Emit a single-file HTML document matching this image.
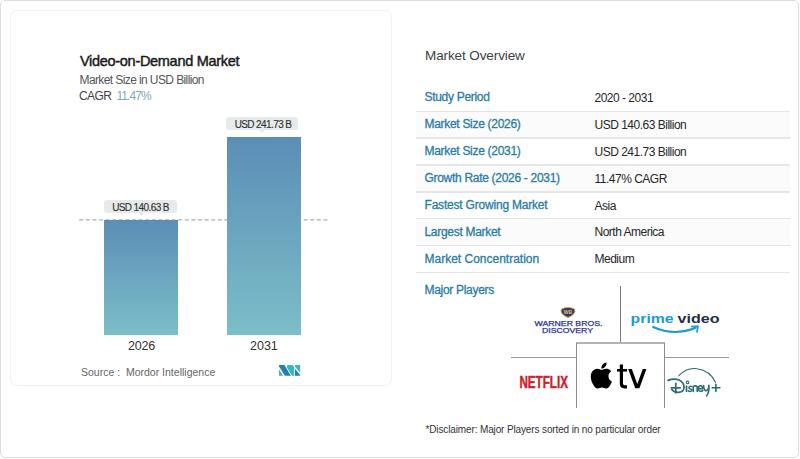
<!DOCTYPE html>
<html><head><meta charset="utf-8">
<style>
html,body{margin:0;padding:0;background:#fff;}
body{width:800px;height:459px;position:relative;overflow:hidden;font-family:"Liberation Sans",sans-serif;}
.abs{position:absolute;white-space:nowrap;line-height:1;}
#outer{position:absolute;left:0;top:0;width:797px;height:456px;border:1px solid #dcdcdc;border-radius:5px;}
#card{position:absolute;left:10px;top:10px;width:380px;height:374px;border:1px solid #f2f2f2;border-radius:7px;}
.title{left:80px;top:54px;font-size:14.5px;font-weight:normal;color:#1a1a1a;letter-spacing:-0.3px;-webkit-text-stroke:0.45px #1a1a1a;}
.sub{left:79.5px;top:74px;font-size:12px;color:#555;letter-spacing:-0.6px;}
.cagr{left:79px;top:90px;font-size:12px;color:#444;letter-spacing:-0.6px;}
.cagr span{color:#7ea8b8;margin-left:2.5px;letter-spacing:-0.95px;}
.bar{position:absolute;background:linear-gradient(to bottom,#5b8eb6,#7cbec8);}

.lbl{position:absolute;background:#e6eaeb;border-radius:3px;height:13px;font-size:10px;color:#333;text-align:center;line-height:16px;letter-spacing:-0.6px;-webkit-text-stroke:0.15px #333;}
.lbl:after{content:"";position:absolute;left:50%;bottom:-3px;margin-left:-3px;border-left:3px solid transparent;border-right:3px solid transparent;border-top:3px solid #e6eaeb;}
.year{font-size:12.5px;color:#333;}
.src{left:81px;top:367px;font-size:10.5px;color:#666;}
.ov{left:425px;top:49px;font-size:13.5px;color:#3b3f44;letter-spacing:-0.1px;}
.rk{left:424.5px;font-size:12px;color:#2b7ca5;letter-spacing:-0.3px;-webkit-text-stroke:0.3px #2b7ca5;}
.rv{left:594.5px;font-size:12px;color:#262626;letter-spacing:-0.5px;}
.sep{position:absolute;left:416px;width:374px;height:1.5px;background:#e6e6e6;}
.rowbg{position:absolute;left:416px;width:374px;background:#fbfbfb;}
.gl{position:absolute;background:#8c8c8c;}
.disc{left:425.5px;top:425px;font-size:10px;color:#333;letter-spacing:-0.13px;}
</style></head><body>
<div id="outer"></div>
<div id="card"></div>

<div class="abs title">Video-on-Demand Market</div>
<div class="abs sub">Market Size in USD Billion</div>
<div class="abs cagr">CAGR <span>11.47%</span></div>

<svg style="position:absolute;left:0;top:0;" width="400" height="240"><line x1="79.2" y1="219.8" x2="327.6" y2="219.8" stroke="#a9b0b3" stroke-width="1.3" stroke-dasharray="4 2.6"/></svg>
<div class="bar" style="left:104px;top:220px;width:74px;height:115px;"></div>
<div class="bar" style="left:227px;top:137px;width:74px;height:198px;"></div>
<div class="lbl" style="left:104px;top:200px;width:73px;">USD 140.63 B</div>
<div class="lbl" style="left:226px;top:117px;width:72px;padding-left:2px;box-sizing:border-box;">USD 241.73 B</div>
<div class="abs year" style="left:128px;top:340px;letter-spacing:-0.2px;">2026</div>
<div class="abs year" style="left:250px;top:340px;">2031</div>
<svg style="position:absolute;left:0;top:0;" width="400" height="400">
 <polygon points="279,365 284.4,365 290.9,375.7 284.8,375.7 279,366.2" fill="#2280b6"/>
 <polygon points="279,369.3 279,375.7 283,375.7" fill="#3db5b9"/>
 <polygon points="287.6,365 292.6,365 294,367 294,375.7 291.9,375.7 286.5,366.8" fill="#3bb7b6"/>
 <polygon points="294.8,365 300.2,365 300.2,372.8 294.8,366.5" fill="#3db7b3"/>
 <polygon points="294.8,368.6 300.2,375 300.2,375.7 294.8,375.7" fill="#2280b6"/>
</svg>
<div class="abs src">Source :&nbsp; Mordor Intelligence</div>

<div class="abs ov">Market Overview</div>
<div class="rowbg" style="top:112.1px;height:25.3px;"></div>
<div class="rowbg" style="top:165.7px;height:25.3px;"></div>
<div class="rowbg" style="top:219.4px;height:25.4px;"></div>
<div class="abs rk" style="top:91px;">Study Period</div>
<div class="abs rv" style="top:91.5px;">2020 - 2031</div>
<div class="sep" style="top:110.6px;"></div>
<div class="abs rk" style="top:118px;">Market Size (2026)</div>
<div class="abs rv" style="top:118.5px;">USD 140.63 Billion</div>
<div class="sep" style="top:137.4px;"></div>
<div class="abs rk" style="top:145px;">Market Size (2031)</div>
<div class="abs rv" style="top:145.5px;">USD 241.73 Billion</div>
<div class="sep" style="top:164.2px;"></div>
<div class="abs rk" style="top:172px;">Growth Rate (2026 - 2031)</div>
<div class="abs rv" style="top:172.5px;">11.47% CAGR</div>
<div class="sep" style="top:191.0px;"></div>
<div class="abs rk" style="top:199px;letter-spacing:-0.2px;">Fastest Growing Market</div>
<div class="abs rv" style="top:199.5px;">Asia</div>
<div class="sep" style="top:217.9px;"></div>
<div class="abs rk" style="top:225.5px;">Largest Market</div>
<div class="abs rv" style="top:226.0px;">North America</div>
<div class="sep" style="top:244.8px;"></div>
<div class="abs rk" style="top:252.5px;letter-spacing:0px;">Market Concentration</div>
<div class="abs rv" style="top:253.0px;">Medium</div>
<div class="sep" style="top:271.6px;"></div>
<div class="abs rk" style="top:284px;">Major Players</div>

<div class="gl" style="left:620px;top:286px;width:1px;height:56px;background:#7a7a7a;"></div>
<div class="gl" style="left:576px;top:342px;width:89px;height:2px;background:#b4b4b4;"></div>
<div class="gl" style="left:576px;top:343px;width:1px;height:65px;"></div>
<div class="gl" style="left:664px;top:343px;width:1px;height:65px;"></div>
<div class="gl" style="left:511px;top:357px;width:65px;height:1px;background:#999;"></div>
<div class="gl" style="left:665px;top:357px;width:64px;height:1px;background:#999;"></div>


<svg style="position:absolute;left:0;top:0;" width="800" height="459" viewBox="0 0 800 459">
 <!-- Warner Bros Discovery -->
 <path d="M561.3,309.2 Q568,305.6 574.7,309.2 Q576.2,314.2 568,317.6 Q559.8,314.2 561.3,309.2 Z" fill="#3a3766" stroke="#c9a447" stroke-width="0.9"/>
 <text x="568" y="314.4" font-family="Liberation Sans" font-weight="bold" font-size="5.4" fill="#dcc27a" text-anchor="middle" textLength="8.5" lengthAdjust="spacingAndGlyphs">WB</text>
 <text x="534.5" y="326.4" font-family="Liberation Sans" font-size="6.8" fill="#2d3595" stroke="#2d3595" stroke-width="0.25" textLength="68" lengthAdjust="spacingAndGlyphs">WARNER BROS.</text>
 <text x="542" y="333" font-family="Liberation Sans" font-size="6.8" fill="#2d3595" stroke="#2d3595" stroke-width="0.25" textLength="51" lengthAdjust="spacingAndGlyphs">DISCOVERY</text>
 <!-- prime video -->
 <text x="630.6" y="322.5" font-family="Liberation Sans" font-weight="bold" font-size="12.6" fill="#1d9ad6" textLength="43" lengthAdjust="spacingAndGlyphs">prime</text>
 <text x="677.5" y="322.5" font-family="Liberation Sans" font-weight="bold" font-size="12.6" fill="#232f3e" textLength="42" lengthAdjust="spacingAndGlyphs">video</text>
 <path d="M653.2,327 Q674,336.6 695.6,327.8" fill="none" stroke="#1d9ad6" stroke-width="2.2" stroke-linecap="round"/>
 <path d="M691.8,326.6 L698,326.1 L697,331.8" fill="none" stroke="#1d9ad6" stroke-width="1.8" stroke-linecap="round" stroke-linejoin="round"/>
 <!-- Netflix -->
 <text x="519.4" y="388.2" font-family="Liberation Sans" font-weight="bold" font-size="16.9" fill="#cf2129" stroke="#cf2129" stroke-width="0.5" textLength="48.6" lengthAdjust="spacingAndGlyphs">NETFLIX</text>
 <!-- Apple tv -->
 <path transform="translate(588.4,362.5) scale(1.083)" fill="#000" d="M12.152 6.896c-.948 0-2.415-1.078-3.96-1.04-2.04.027-3.91 1.183-4.961 3.014-2.117 3.675-.546 9.103 1.519 12.09 1.013 1.454 2.208 3.09 3.792 3.039 1.52-.065 2.09-.987 3.935-.987 1.831 0 2.35.987 3.96.948 1.637-.026 2.676-1.48 3.676-2.948 1.156-1.688 1.636-3.325 1.662-3.415-.039-.013-3.182-1.221-3.22-4.857-.026-3.04 2.48-4.494 2.597-4.559-1.429-2.09-3.623-2.324-4.39-2.376-2-.156-3.675 1.09-4.61 1.09zM15.53 3.83c.843-1.012 1.4-2.427 1.245-3.83-1.207.052-2.662.805-3.532 1.818-.78.896-1.454 2.338-1.273 3.714 1.338.104 2.715-.688 3.559-1.701"/>
 <path d="M621.4,364.5 V383.6 Q621.4,386.9 624.6,386.9 H627" fill="none" stroke="#000" stroke-width="3.2"/>
 <path d="M617,370.3 H627" fill="none" stroke="#000" stroke-width="2.6"/>
 <polygon points="628.2,369 631.8,369 637.3,384 642.8,369 646.4,369 639.4,388.3 635.2,388.3" fill="#000"/>
 <!-- Disney+ -->
 <g fill="none" stroke="#2b6b75" stroke-linecap="round" stroke-linejoin="round">
 <path d="M678.8,375.7 Q687,367.2 697,368.8 Q710,370.5 715.5,382.3" stroke-width="1.1"/>
 <path d="M668.1,380.4 Q673.5,378.2 679,380 Q684.3,382.3 684,387.8 Q683.6,392.5 678,392.4 Q673.6,392.2 671.8,389.6" stroke-width="1.7"/>
 <path d="M675.8,383.3 V392.8 M671.2,387.8 H680.2" stroke-width="1.7"/>
 <circle cx="687.6" cy="382.4" r="1.3" stroke-width="1.1"/>
 <path d="M686.5,386.2 V391.2" stroke-width="1.7"/>
 <path d="M691.8,386.6 Q689.2,385.6 688.9,387.6 Q689.1,388.9 690.8,389.1 Q692.6,390.3 690.6,391.3 Q689.2,391.6 688.3,390.9" stroke-width="1.5"/>
 <path d="M693.2,391.5 V386.4 Q695.6,385.2 697.2,386.6 V391.5" stroke-width="1.6"/>
 <path d="M698.6,388.8 H702.6 Q702.6,385.8 700.5,385.8 Q698.3,385.8 698.3,388.7 Q698.4,391.5 701,391.3 Q702.3,391.1 702.8,390.5" stroke-width="1.5"/>
 <path d="M703.6,385.6 Q703.8,390.6 706.2,390.6 Q708.8,390.4 708.9,385.3 Q709.6,392 706.4,396" stroke-width="1.6"/>
 <path d="M712.2,387.8 H719.9 M715.9,384.4 V391.5" stroke-width="1.6"/>
 </g>
</svg>

<div class="abs disc">*Disclaimer: Major Players sorted in no particular order</div>
</body></html>
